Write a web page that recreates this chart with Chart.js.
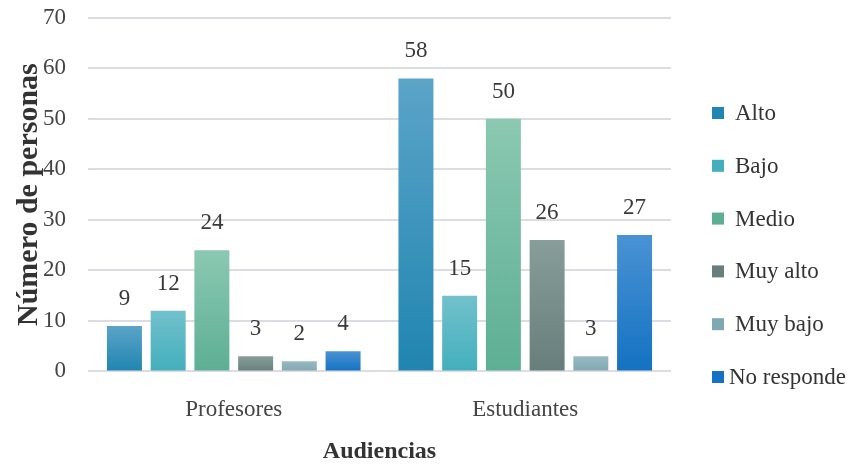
<!DOCTYPE html>
<html><head><meta charset="utf-8">
<script src="https://cdn.jsdelivr.net/npm/chart.js@4/dist/chart.umd.min.js"></script>
<style>html,body{margin:0;padding:0;background:#fff}#w{width:854px;height:464px}</style>
</head><body><div id="w"><canvas id="c"></canvas></div>
<script>
const categories = ["Profesores", "Estudiantes"];
const seriesNames = ["Alto", "Bajo", "Medio", "Muy alto", "Muy bajo", "No responde"];
const alto = [9, 58];
const bajo = [12, 15];
const medio = [24, 50];
const muyAlto = [3, 26];
const muyBajo = [2, 3];
const noResponde = [4, 27];
const yTicks = [0, 10, 20, 30, 40, 50, 60, 70];
const topColors = ["#5ba4c8", "#72c1cc", "#8bc8b2", "#879d99", "#98b9c1", "#4a92d4"];
const bottomColors = ["#2085b0", "#43afbc", "#5daf94", "#687e7c", "#80a8b3", "#1472c2"];

const seriesValues = [alto, bajo, medio, muyAlto, muyBajo, noResponde];
const FONT = "'Liberation Serif', 'Times New Roman', serif";

function grad(i) {
  return function(ctx) {
    const chart = ctx.chart;
    const area = chart.chartArea;
    if (!area || ctx.type !== 'data') return bottomColors[i];
    const ys = chart.scales.y;
    const top = ys.getPixelForValue(ctx.raw);
    const base = ys.getPixelForValue(0);
    if (!isFinite(top) || !isFinite(base) || Math.abs(base - top) < 1) return bottomColors[i];
    const g = chart.ctx.createLinearGradient(0, top, 0, base);
    g.addColorStop(0, topColors[i]);
    g.addColorStop(1, bottomColors[i]);
    return g;
  };
}

const labelPlugin = {
  id: 'valueLabels',
  afterDatasetsDraw(chart) {
    const ctx = chart.ctx;
    ctx.save();
    ctx.font = "23px " + FONT;
    ctx.fillStyle = "#3a3a3a";
    ctx.textAlign = "center";
    ctx.textBaseline = "alphabetic";
    chart.data.datasets.forEach((ds, di) => {
      const meta = chart.getDatasetMeta(di);
      meta.data.forEach((bar, i) => {
        ctx.fillText(String(ds.data[i]), bar.x, bar.y - 21);
      });
    });
    ctx.restore();
  }
};

const legendPlugin = {
  id: 'sideLegend',
  afterDraw(chart) {
    const ctx = chart.ctx;
    const area = chart.chartArea;
    const boxX = area.right + 41;
    const firstY = 113, step = 52.8;
    ctx.save();
    ctx.font = "23px " + FONT;
    ctx.textAlign = "left";
    ctx.textBaseline = "middle";
    chart.data.datasets.forEach((ds, i) => {
      const cy = firstY + i * step;
      ctx.fillStyle = bottomColors[i];
      ctx.fillRect(boxX, cy - 6, 12, 12);
      ctx.fillStyle = "#333333";
      ctx.fillText(ds.label, boxX + (i === 5 ? 17 : 23), cy + 1);
    });
    ctx.restore();
  }
};

new Chart(document.getElementById('c'), {
  type: 'bar',
  data: {
    labels: categories,
    datasets: seriesNames.map((n, i) => ({
      label: n,
      data: seriesValues[i],
      backgroundColor: grad(i),
      borderWidth: 0,
      categoryPercentage: 0.9,
      barPercentage: 0.8
    }))
  },
  options: {
    responsive: true,
    maintainAspectRatio: false,
    animation: false,
    layout: { padding: { top: 0, right: 183, left: 14, bottom: 0 } },
    plugins: {
      tooltip: { enabled: false },
      legend: { display: false }
    },
    scales: {
      x: {
        grid: { display: false, drawTicks: false },
        border: { display: false },
        ticks: { font: { family: FONT, size: 23 }, color: '#444444', padding: 25 },
        title: { display: true, text: 'Audiencias', font: { family: FONT, size: 24, weight: 'bold', lineHeight: 1 }, color: '#333333', padding: { top: -9, bottom: 0 } }
      },
      y: {
        min: 0, max: 70,
        afterBuildTicks(scale) { scale.ticks = yTicks.map(v => ({ value: v })); },
        grid: { color: '#dcdce4', lineWidth: 2, drawTicks: true, tickLength: 18, tickColor: 'rgba(0,0,0,0)' },
        border: { display: false },
        ticks: { font: { family: FONT, size: 23 }, color: '#444444', padding: 4 },
        title: { display: true, text: 'Número de personas', font: { family: FONT, size: 30, weight: 'bold', lineHeight: 1 }, color: '#333333', padding: { top: 0, bottom: -5 } }
      }
    }
  },
  plugins: [labelPlugin, legendPlugin]
});
</script>
</body></html>
